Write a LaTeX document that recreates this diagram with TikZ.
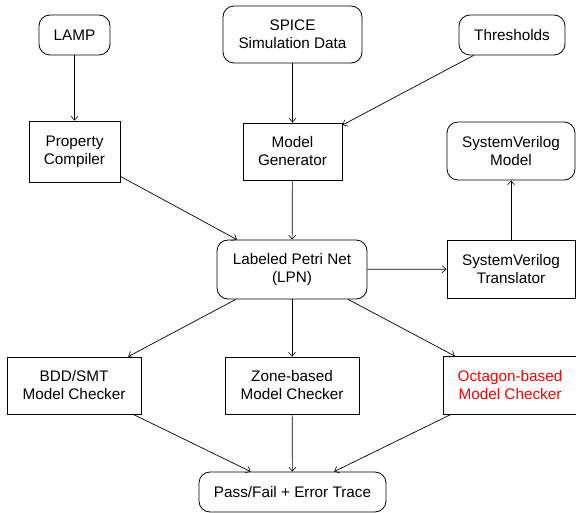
\documentclass[tikz,border=0pt]{standalone}
\usepackage{fontspec}
\setmainfont{Liberation Sans}
\usetikzlibrary{arrows.meta}
\begin{document}
\begin{tikzpicture}[x=1pt,y=-1pt,
  every node/.style={font=\fontsize{15.3}{18}\selectfont, align=center, inner sep=0pt, line width=0.8pt},
  rbox/.style={draw, rounded corners=11pt},
  sbox/.style={draw},
  conn/.style={line width=0.7pt, -{Straight Barb[length=4pt,width=7pt,line width=0.6pt]}}
]
\useasboundingbox (0,0) rectangle (576,513);
\node[rbox, minimum width=71pt, minimum height=40pt] (lamp) at (74.5,35) {LAMP};
\node[rbox, minimum width=139pt, minimum height=57pt] (spice) at (292.5,34.5) {SPICE\\Simulation Data};
\node[rbox, minimum width=106pt, minimum height=40pt] (thr) at (512,35) {Thresholds};
\node[sbox, minimum width=91pt, minimum height=61pt] (pc) at (74.5,151.5) {Property\\Compiler};
\node[sbox, minimum width=99pt, minimum height=57pt] (mg) at (292.5,151.5) {Model\\Generator};
\node[rbox, minimum width=128pt, minimum height=58pt] (svm) at (511,151) {SystemVerilog\\Model};
\node[rbox, minimum width=150pt, minimum height=59pt] (lpn) at (292,269.5) {Labeled Petri Net\\(LPN)};
\node[sbox, minimum width=128pt, minimum height=58pt] (svt) at (511,269) {SystemVerilog\\Translator};
\node[sbox, minimum width=134pt, minimum height=57pt] (bdd) at (74,385.5) {BDD/SMT\\Model Checker};
\node[sbox, minimum width=134pt, minimum height=57pt] (zone) at (292,385.5) {Zone-based\\Model Checker};
\node[sbox, minimum width=134pt, minimum height=58pt, text=red] (oct) at (510,385.5) {Octagon-based\\Model Checker};
\node[rbox, minimum width=187pt, minimum height=40pt] (pf) at (292.5,492) {Pass/Fail + Error Trace};
\draw[conn] (lamp) -- (pc);
\draw[conn] (spice) -- (mg);
\draw[conn] (thr) -- (mg);
\draw[conn] (pc) -- (lpn);
\draw[conn] (mg) -- (lpn);
\draw[conn] (lpn) -- (svt);
\draw[conn] (svt) -- (svm);
\draw[conn] (lpn) -- (bdd);
\draw[conn] (lpn) -- (zone);
\draw[conn] (lpn) -- (oct);
\draw[conn] (bdd) -- (pf);
\draw[conn] (zone) -- (pf);
\draw[conn] (oct) -- (pf);
\end{tikzpicture}
\end{document}
